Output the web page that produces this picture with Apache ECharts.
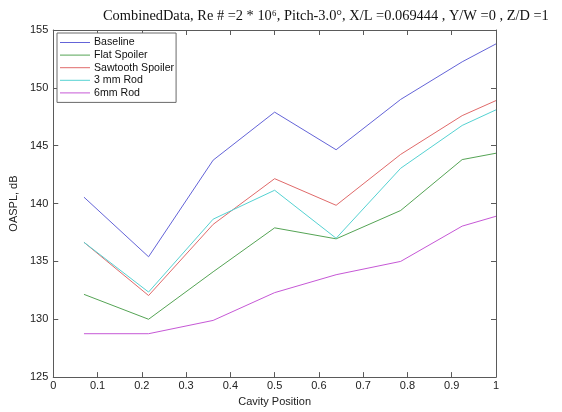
<!DOCTYPE html>
<html>
<head>
<meta charset="utf-8">
<script src="https://cdn.jsdelivr.net/npm/echarts@6/dist/echarts.min.js"></script>
<style>
  html, body { margin: 0; padding: 0; background: #fff; }
  #chart { width: 562px; height: 412px; }
</style>
</head>
<body>
<div id="chart"></div>
<script>
// Cavity positions along the body (normalised)
const positions = [0.0694, 0.2153, 0.3611, 0.5, 0.6389, 0.7847, 0.9236, 1.0];

// Overall sound pressure level per configuration, dB
const baseline = [140.55, 135.4, 143.75, 147.9, 144.65, 149.0, 152.25, 153.8];
const flatSpoiler = [132.15, 130.0, 134.1, 137.9, 136.95, 139.4, 143.8, 144.35];
const sawtoothSpoiler = [136.65, 132.05, 138.2, 142.15, 139.85, 144.25, 147.6, 148.9];
const rod3mm = [136.65, 132.35, 138.65, 141.15, 137.0, 143.05, 146.75, 148.1];
const rod6mm = [128.75, 128.75, 129.9, 132.3, 133.85, 135.0, 138.05, 138.9];

const seriesNames = ['Baseline', 'Flat Spoiler', 'Sawtooth Spoiler', '3 mm Rod', '6mm Rod'];
const seriesValues = [baseline, flatSpoiler, sawtoothSpoiler, rod3mm, rod6mm];
const seriesColors = ['#6464d8', '#55a455', '#e06a6a', '#55d2d2', '#c658d6'];

const xTicks = [0, 0.1, 0.2, 0.3, 0.4, 0.5, 0.6, 0.7, 0.8, 0.9, 1];
const yTicks = [125, 130, 135, 140, 145, 150, 155];

const sans = 'Liberation Sans, Arial, sans-serif';
const axisColor = '#5a5a5a';

const chart = echarts.init(document.getElementById('chart'), null, { renderer: 'canvas' });

function xAxisDef(pos, showLabels) {
  return {
    type: 'value', position: pos, min: xTicks[0], max: xTicks[xTicks.length - 1], interval: 0.1,
    name: showLabels ? 'Cavity Position' : '',
    nameLocation: 'middle', nameGap: 17,
    nameTextStyle: { fontFamily: sans, fontSize: 11, color: '#222' },
    axisLine: { show: true, onZero: false, lineStyle: { color: axisColor, width: 1 } },
    axisTick: { show: true, inside: true, length: 5, lineStyle: { color: axisColor } },
    axisLabel: { show: showLabels, fontFamily: sans, fontSize: 11, color: '#222', margin: 3,
      formatter: v => String(+v.toFixed(1)) },
    splitLine: { show: false }
  };
}
function yAxisDef(pos, showLabels) {
  return {
    type: 'value', position: pos, min: yTicks[0], max: yTicks[yTicks.length - 1], interval: 5,
    name: showLabels ? 'OASPL, dB' : '',
    nameLocation: 'middle', nameGap: 25, nameRotate: 90,
    nameTextStyle: { fontFamily: sans, fontSize: 11, color: '#222' },
    axisLine: { show: true, onZero: false, lineStyle: { color: axisColor, width: 1 } },
    axisTick: { show: true, inside: true, length: 5, lineStyle: { color: axisColor } },
    axisLabel: { show: showLabels, fontFamily: sans, fontSize: 11, color: '#222', margin: 5 },
    splitLine: { show: false }
  };
}

const option = {
  animation: false,
  backgroundColor: '#fff',
  title: {
    text: 'CombinedData, Re # =2 * 10\u2076, Pitch-3.0\u00b0, X/L =0.069444 , Y/W =0 , Z/D =1',
    left: 98, top: 4,
    textStyle: { fontFamily: 'Liberation Serif, Times New Roman, serif', fontSize: 14.4, fontWeight: 'normal', color: '#111' }
  },
  legend: {
    left: 57, top: 33, orient: 'vertical',
    itemWidth: 30, itemHeight: 9, itemGap: 1.6,
    padding: [4, 2, 4, 3],
    borderColor: '#6a6a6a', borderWidth: 1, backgroundColor: '#fff',
    icon: 'path://M0,4 L30,4 L30,5 L0,5 Z',
    textStyle: { fontFamily: sans, fontSize: 10.6, color: '#111', padding: [0, 0, 0, -1] },
    data: seriesNames
  },
  grid: { left: 49, right: 66, top: 30, bottom: 32, containLabel: false },
  xAxis: [xAxisDef('bottom', true), xAxisDef('top', false)],
  yAxis: [yAxisDef('left', true), yAxisDef('right', false)],
  series: seriesNames.map((name, i) => ({
    name: name,
    type: 'line',
    xAxisIndex: 0, yAxisIndex: 0,
    data: positions.map((x, j) => [x, seriesValues[i][j]]),
    symbol: 'none',
    lineStyle: { color: seriesColors[i], width: 1 },
    itemStyle: { color: seriesColors[i] }
  }))
};

chart.setOption(option);
</script>
</body>
</html>
